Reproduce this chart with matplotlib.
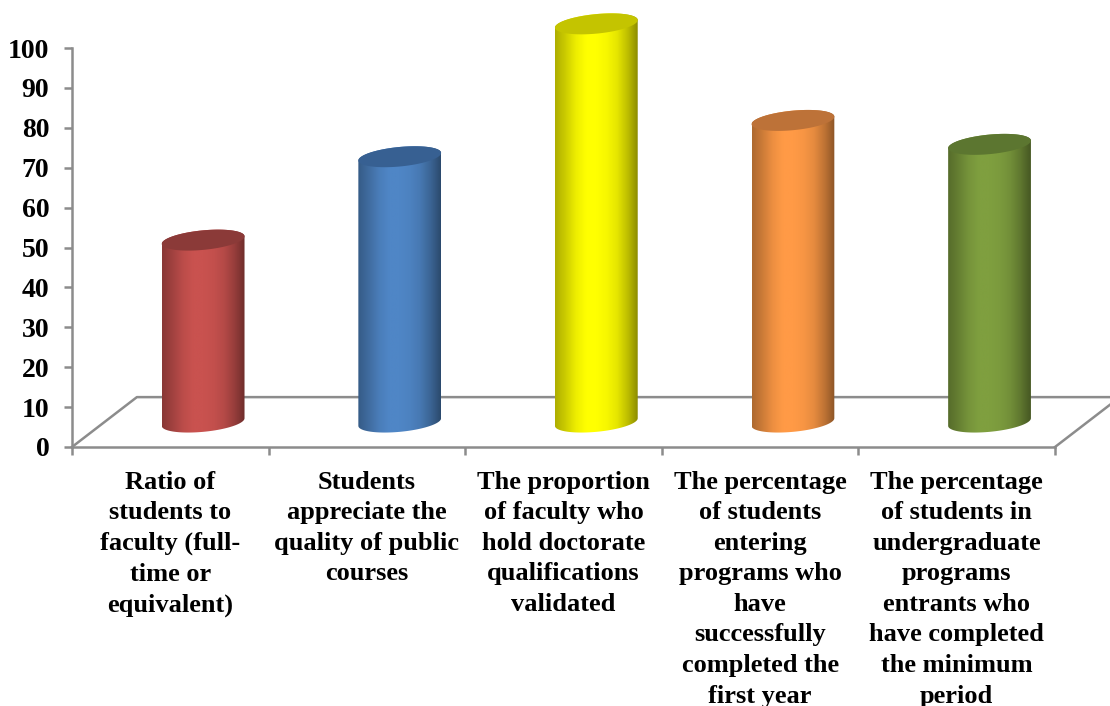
import numpy as np
import matplotlib.pyplot as plt
from matplotlib.colors import to_rgb
from matplotlib.patches import PathPatch, Polygon
from matplotlib.path import Path

categories = [
    'Ratio of\nstudents to\nfaculty (full-\ntime or\nequivalent)',
    'Students\nappreciate the\nquality of public\ncourses',
    'The proportion\nof faculty who\nhold doctorate\nqualifications\nvalidated',
    'The percentage\nof students\nentering\nprograms who\nhave\nsuccessfully\ncompleted the\nfirst year',
    'The percentage\nof students in\nundergraduate\nprograms\nentrants who\nhave completed\nthe minimum\nperiod',
]
values = [45.6, 66.5, 99.8, 75.6, 69.6]
side_colors = ['#C9524F', '#4F86C6', '#FFFF00', '#FF9A46', '#7F9F3F']
top_colors = ['#8B3A38', '#376092', '#C4C400', '#BD7238', '#5C7630']
yticks = np.arange(0, 101, 10)

grey = '#8C8C8C'

plt.rcParams['font.family'] = ['Liberation Serif', 'DejaVu Serif']
plt.rcParams['font.weight'] = 'bold'

fig = plt.figure(figsize=(11.1, 7.06), dpi=100)
# axes box placed so that 0-100 and the 5 categories land where the original has them
ax = fig.add_axes([72 / 1110, (706 - 447) / 706, (1055 - 72) / 1110, (447 - 48) / 706])
ax.set_xlim(-0.5, 4.5)
ax.set_ylim(0, 100)

# oblique depth of the floor, in data units
depth_x = 0.33
depth_y = 12.5

for side in ['top', 'right']:
    ax.spines[side].set_visible(False)
for side in ['left', 'bottom']:
    ax.spines[side].set_color(grey)
    ax.spines[side].set_linewidth(1.8)

ax.set_yticks(yticks)
ax.tick_params(axis='y', length=5.8, width=1.8, color=grey, pad=10.5, labelsize=20)
ax.set_xticks(np.arange(-0.5, 5))
ax.set_xticklabels([])
ax.tick_params(axis='x', which='major', length=5.8, width=1.8, color=grey)
ax.set_xticks(np.arange(len(categories)), labels=categories, minor=True)
ax.tick_params(axis='x', which='minor', length=0, pad=17, labelsize=19)
for lab in ax.get_xticklabels(minor=True):
    lab.set_linespacing(1.42)
    lab.set_clip_on(False)

# floor outline
ax.plot([-0.5, -0.5 + depth_x, 4.5 + depth_x], [0, depth_y, depth_y],
        color=grey, lw=1.8, clip_on=False, zorder=1)
ax.plot([4.5, 4.5 + depth_x], [0, depth_y], color=grey, lw=1.8, clip_on=False, zorder=1)

# cylinder shape
half_w = 0.2105
half_h = 2.45
tilt = 0.95
t = np.linspace(0, 2 * np.pi, 121)
shade = np.array([0.68, 0.8, 0.93, 1.0, 1.0, 0.97, 0.9, 0.75, 0.55])
grad = np.interp(np.linspace(0, 1, 200), np.linspace(0, 1, len(shade)), shade)


def ring(cx, cy, angles):
    return cx + half_w * np.cos(angles), cy + half_h * np.sin(angles) + tilt * np.cos(angles)


for i, v in enumerate(values):
    cx = i + depth_x / 2 + 0.002
    base = depth_y / 2  # foot sits half way back on the floor
    top = base + v

    # side of the cylinder: gradient image clipped to the body outline
    bot_x, bot_y = ring(cx, base, t[t >= np.pi])
    top_x, top_y = ring(cx, top, t[t <= np.pi])
    clip = Polygon(np.column_stack([np.r_[bot_x, top_x], np.r_[bot_y, top_y]]),
                   closed=True, transform=ax.transData, fc='none', ec='none')
    ax.add_patch(clip)

    img = (grad[:, None] * np.array(to_rgb(side_colors[i])))[None, :, :]
    im = ax.imshow(img, extent=[cx - half_w, cx + half_w, base - half_h - tilt, top + half_h + tilt],
                   aspect='auto', zorder=3, interpolation='bilinear')
    im.set_clip_box(fig.bbox)
    im.set_clip_path(clip)

    tx, ty = ring(cx, top, t)
    cap = PathPatch(Path(np.column_stack([tx, ty])), fc=top_colors[i], ec='none', zorder=4, clip_on=False)
    ax.add_patch(cap)

ax.set_xlim(-0.5, 4.5)
ax.set_ylim(0, 100)
fig.savefig('out.png', dpi=100)
